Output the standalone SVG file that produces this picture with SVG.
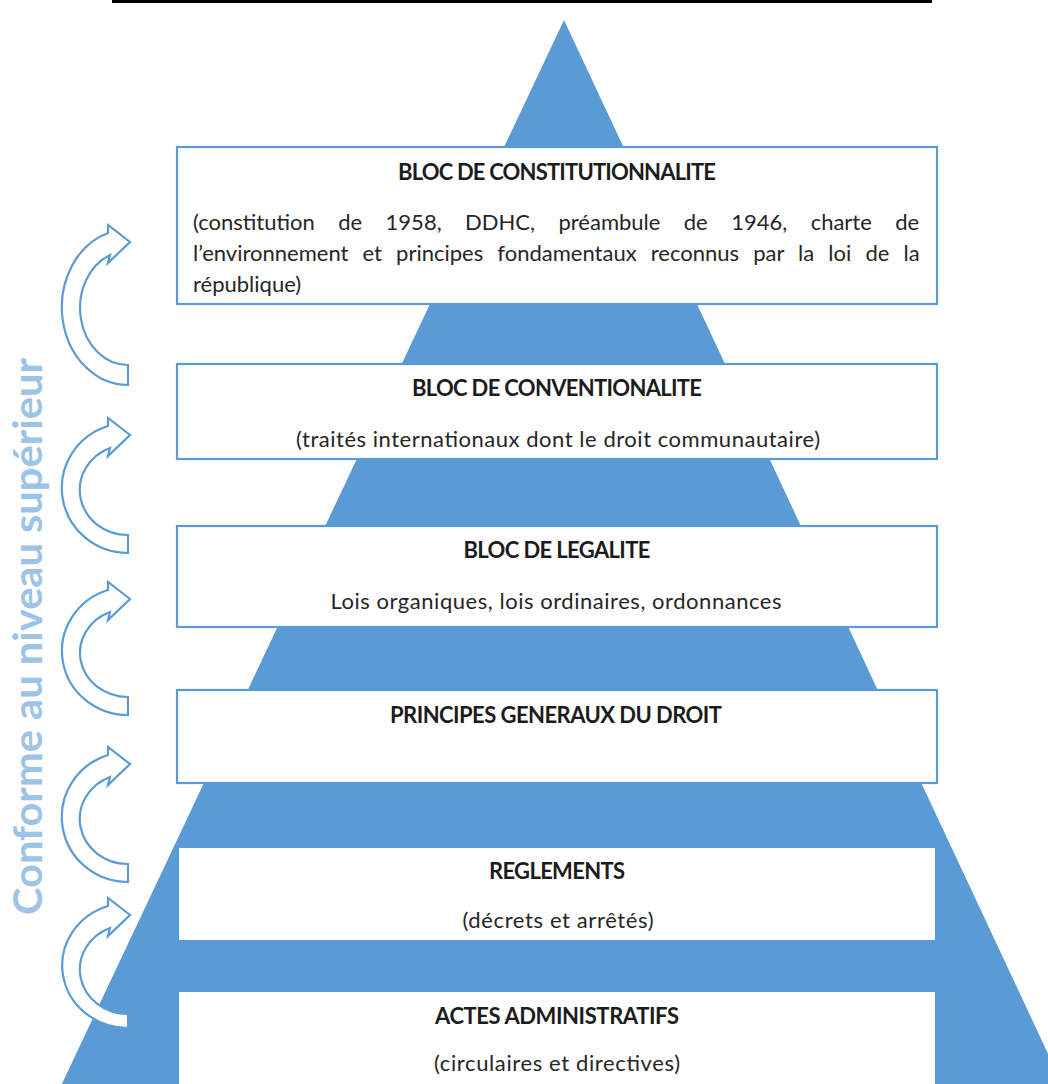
<svg xmlns="http://www.w3.org/2000/svg" width="1048" height="1084" viewBox="0 0 1048 1084">
<defs>
<style>
.tri{fill:#5b9bd5}
.box{fill:#fff;stroke:#5b9bd5;stroke-width:2.2}
.plain{fill:#fff}
.h{font-family:Lato,"Liberation Sans",sans-serif;font-weight:bold;font-size:22px;fill:#1c1c1c;text-anchor:middle}
.b{font-family:Lato,"Liberation Sans",sans-serif;font-size:22px;fill:#262626;text-anchor:middle}
.j{font-family:Lato,"Liberation Sans",sans-serif;font-size:22px;fill:#262626}
.arr{fill:#fff;stroke:#5b9bd5;stroke-width:2.2;stroke-linejoin:miter}
.side{font-family:Lato,"Liberation Sans",sans-serif;font-weight:bold;font-size:40px;fill:#9dc3e6;text-anchor:middle}
</style>
<clipPath id="clip1"><rect x="178" y="148" width="758" height="148"/></clipPath>
</defs>
<rect x="112" y="0" width="820" height="3" fill="#000"/>
<polygon class="tri" points="564,20 59,1090 1065,1090"/>
<text class="side" transform="translate(42,636.5) rotate(-90)" textLength="557" lengthAdjust="spacingAndGlyphs">Conforme au niveau supérieur</text>
<g id="connectors">
<path class="arr" d="M128,385 A66,77.8 0 0 1 108,233 L108,225 L130,242 L108,263 L110,255 A48,57.1 0 0 0 128,365 Z"/>
<path class="arr" d="M128,553 A66,65 0 0 1 108,426 L108,418 L130,435 L108,456 L110,448 A48,45.1 0 0 0 128,535 Z"/>
<path class="arr" d="M128,715 A66,64 0 0 1 108,590 L108,582 L130,599 L108,620 L110,612 A48,44.1 0 0 0 128,697 Z"/>
<path class="arr" d="M128,882 A66,65 0 0 1 108,755 L108,747 L130,764 L108,785 L110,777 A48,45.1 0 0 0 128,864 Z"/>
<path class="arr" d="M128,1028 A66,62.5 0 0 1 108,906 L108,898 L130,915 L108,936 L110,928 A48,44.6 0 0 0 128,1014 Z"/>
</g>
<g id="n1">
<rect class="box" x="177" y="147" width="760" height="157"/>
<text class="h" x="557" y="180" textLength="318">BLOC DE CONSTITUTIONNALITE</text>
<g clip-path="url(#clip1)">
<text class="j" x="193" y="230" word-spacing="17.8">(constitution de 1958, DDHC, préambule de 1946, charte de</text>
<text class="j" x="193" y="261" word-spacing="8.5">l’environnement et principes fondamentaux reconnus par la loi de la</text>
<text class="j" x="193" y="292">république)</text>
</g>
</g>
<g id="n2">
<rect class="box" x="177" y="364" width="760" height="95"/>
<text class="h" x="557" y="396" textLength="290">BLOC DE CONVENTIONALITE</text>
<text class="b" x="558" y="447" textLength="524">(traités internationaux dont le droit communautaire)</text>
</g>
<g id="n3">
<rect class="box" x="177" y="526" width="760" height="101"/>
<text class="h" x="557" y="558" textLength="187">BLOC DE LEGALITE</text>
<text class="b" x="556" y="609" textLength="451">Lois organiques, lois ordinaires, ordonnances</text>
</g>
<g id="n4">
<rect class="box" x="177" y="690" width="760" height="93"/>
<text class="h" x="556" y="723" textLength="332">PRINCIPES GENERAUX DU DROIT</text>
</g>
<g id="n5">
<rect class="plain" x="179" y="848" width="756" height="92"/>
<text class="h" x="557" y="879" textLength="136">REGLEMENTS</text>
<text class="b" x="558" y="928" textLength="191">(décrets et arrêtés)</text>
</g>
<g id="n6">
<rect class="plain" x="179" y="992" width="756" height="100"/>
<text class="h" x="557" y="1024" textLength="244">ACTES ADMINISTRATIFS</text>
<text class="b" x="557" y="1071" textLength="246">(circulaires et directives)</text>
</g>
</svg>
